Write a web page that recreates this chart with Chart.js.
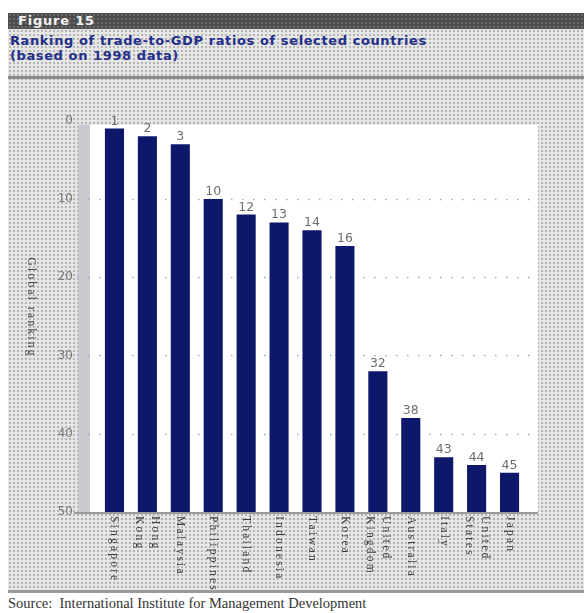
<!DOCTYPE html>
<html>
<head>
<meta charset="utf-8">
<script src="https://cdn.jsdelivr.net/npm/chart.js@4"></script>
<style>
  html, body { margin: 0; padding: 0; background: #fff; }
  #page { position: relative; width: 584px; height: 613px; overflow: hidden; }
  #panel {
    position: absolute; left: 8px; top: 29px; width: 576px; height: 562px;
    background-color: #e6e6e6;
    background-image: radial-gradient(circle, #b4b4b4 0.9px, transparent 1.4px);
    background-size: 4px 4px;
  }
  #band {
    position: absolute; left: 8px; top: 13px; width: 576px; height: 16px;
    background-color: #4c4c4c;
    background-image: radial-gradient(circle, #6c6c6c 0.9px, transparent 1.4px);
    background-size: 4px 4px;
  }
  #band span {
    position: absolute; left: 10px; top: 0; line-height: 16px;
    font: bold 13px "DejaVu Sans", sans-serif; color: #f2f2f2; letter-spacing: 0.8px;
  }
  #title {
    position: absolute; left: 10px; top: 33px; line-height: 18px;
    font: bold 13px "DejaVu Sans", sans-serif; color: #23308a; letter-spacing: 0.6px;
  }
  #rule1 { position: absolute; left: 8px; top: 76px; width: 576px; height: 3px; background: #8a8a8a; }
  #rule2 { position: absolute; left: 8px; top: 590px; width: 576px; height: 3px; background: #9a9a9a; }
  #source {
    position: absolute; left: 8px; top: 595px;
    font: 14.5px "Liberation Serif", serif; color: #333;
  }
  #wrap { position: absolute; left: 0; top: 80px; width: 584px; height: 510px; }
  #chart { display: block; }
</style>
</head>
<body>
<div id="page">
  <div id="panel"></div>
  <div id="band"><span>Figure 15</span></div>
  <div id="title">Ranking of trade-to-GDP ratios of selected countries<br>(based on 1998 data)</div>
  <div id="rule1"></div>
  <div id="wrap"><canvas id="chart" width="584" height="510"></canvas></div>
  <div id="rule2"></div>
  <div id="source">Source:&nbsp;&nbsp;International Institute for Management Development</div>
</div>
<script>
// Countries (two-part names are split over two rotated lines)
const countries = [
  'Singapore', ['Hong', 'Kong'], 'Malaysia', 'Philippines', 'Thailand',
  'Indonesia', 'Taiwan', 'Korea', ['United', 'Kingdom'], 'Australia',
  'Italy', ['United', 'States'], 'Japan'
];
// Global ranking of each country's trade-to-GDP ratio
const rankings = [1, 2, 3, 10, 12, 13, 14, 16, 32, 38, 43, 44, 45];
// Value-axis ticks (rank 0 at the top, 50 at the bottom)
const rankTicks = [0, 10, 20, 30, 40, 50];
const rankMin = 0;
const rankMax = 50;
const axisTitle = 'Global ranking';

const labelFont = '11.5px "Liberation Serif", serif';

// Plot backdrop, grid, axis labels and category labels
const decorations = {
  id: 'decorations',
  beforeDatasetsDraw(chart) {
    const { ctx } = chart;
    const y = chart.scales.y;
    const top = y.getPixelForValue(rankMin);
    const bottom = y.getPixelForValue(rankMax);
    ctx.save();
    // white plotting wall and the grey side strip
    ctx.fillStyle = '#ffffff';
    ctx.fillRect(90, top + 4, 448, bottom - top - 4);
    ctx.fillStyle = '#c9c9cf';
    ctx.fillRect(78, top + 4, 12, bottom - top - 4);
    // dotted grid lines
    ctx.strokeStyle = '#8fb4c4';
    ctx.lineWidth = 1.5;
    ctx.setLineDash([1.5, 9.5]);
    rankTicks.forEach(t => {
      if (t === rankMin || t === rankMax) return;
      const py = Math.round(y.getPixelForValue(t)) + 0.5;
      ctx.beginPath();
      ctx.moveTo(77, py);
      ctx.lineTo(538, py);
      ctx.stroke();
    });
    ctx.setLineDash([]);
    // base line
    ctx.strokeStyle = '#9a9a9a';
    ctx.lineWidth = 2;
    ctx.beginPath();
    ctx.moveTo(74, bottom + 1);
    ctx.lineTo(538, bottom + 1);
    ctx.stroke();
    ctx.restore();
  },
  afterDatasetsDraw(chart) {
    const { ctx } = chart;
    const y = chart.scales.y;
    const x = chart.scales.x;
    ctx.save();
    // value-axis tick labels
    ctx.font = '12px "DejaVu Sans", sans-serif';
    ctx.fillStyle = '#7a7a7a';
    ctx.textAlign = 'right';
    ctx.textBaseline = 'middle';
    rankTicks.forEach(t => {
      ctx.fillText(String(t), 73, y.getPixelForValue(t));
    });
    // rank values above the bars
    const meta = chart.getDatasetMeta(0);
    ctx.font = '12.5px "DejaVu Sans", sans-serif';
    ctx.fillStyle = '#6e6e6e';
    ctx.textAlign = 'center';
    ctx.textBaseline = 'bottom';
    meta.data.forEach((bar, i) => {
      ctx.fillText(String(rankings[i]), bar.x, bar.y - 1);
    });
    // rotated category labels
    ctx.font = labelFont;
    ctx.fillStyle = '#3a3a3a';
    if ('letterSpacing' in ctx) ctx.letterSpacing = '2.2px';
    ctx.textAlign = 'left';
    ctx.textBaseline = 'middle';
    const labelTop = y.getPixelForValue(rankMax) + 4;
    countries.forEach((name, i) => {
      const lines = Array.isArray(name) ? name : [name];
      const cx = x.getPixelForValue(i);
      ctx.save();
      ctx.translate(cx, labelTop);
      ctx.rotate(Math.PI / 2);
      lines.forEach((ln, k) => {
        ctx.fillText(ln, 0, (k - (lines.length - 1) / 2) * 16);
      });
      ctx.restore();
    });
    // axis title
    ctx.font = '12px "Liberation Serif", serif';
    if ('letterSpacing' in ctx) ctx.letterSpacing = '2px';
    ctx.textAlign = 'center';
    ctx.fillStyle = '#4a4a4a';
    ctx.translate(31, (y.getPixelForValue(rankMin) + y.getPixelForValue(rankMax)) / 2 - 9);
    ctx.rotate(Math.PI / 2);
    ctx.fillText(axisTitle, 0, 0);
    ctx.restore();
  }
};

new Chart(document.getElementById('chart'), {
  type: 'bar',
  data: {
    labels: countries,
    datasets: [{
      data: rankings,
      base: rankMax,
      backgroundColor: '#0d186b',
      borderWidth: 0,
      barPercentage: 0.58,
      categoryPercentage: 1.0
    }]
  },
  options: {
    responsive: false,
    animation: false,
    devicePixelRatio: 1,
    layout: { padding: { left: 98, right: 58, top: 40.7, bottom: 78 } },
    plugins: { legend: { display: false }, tooltip: { enabled: false } },
    scales: {
      x: { display: false, offset: true },
      y: { display: false, reverse: true, min: rankMin, max: rankMax }
    }
  },
  plugins: [decorations]
});
</script>
</body>
</html>
